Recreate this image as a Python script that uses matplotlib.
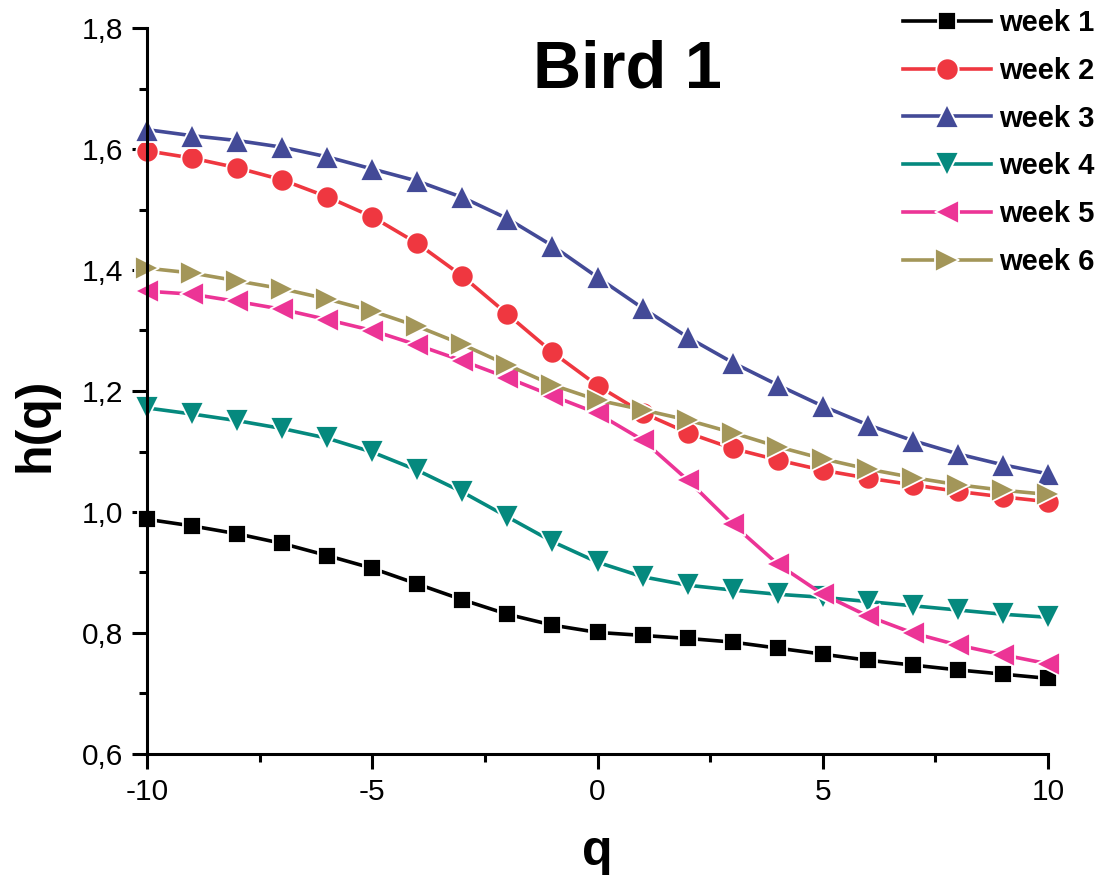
import matplotlib
matplotlib.use("Agg")
import matplotlib.pyplot as plt
from matplotlib.ticker import MultipleLocator

plt.rcParams['font.family'] = ['Liberation Sans', 'DejaVu Sans']
plt.rcParams['axes.unicode_minus'] = False

q = [-10, -9, -8, -7, -6, -5, -4, -3, -2, -1, 0, 1, 2, 3, 4, 5, 6, 7, 8, 9, 10]

week1 = [0.988, 0.977, 0.964, 0.948, 0.928, 0.907, 0.881, 0.855, 0.831, 0.813, 0.801,
         0.796, 0.791, 0.785, 0.775, 0.765, 0.755, 0.747, 0.739, 0.732, 0.725]
week2 = [1.597, 1.585, 1.569, 1.549, 1.521, 1.488, 1.444, 1.390, 1.327, 1.264, 1.209,
         1.164, 1.131, 1.105, 1.086, 1.069, 1.056, 1.045, 1.034, 1.025, 1.017]
week3 = [1.632, 1.622, 1.614, 1.603, 1.587, 1.567, 1.547, 1.520, 1.485, 1.440, 1.388,
         1.337, 1.289, 1.247, 1.210, 1.175, 1.144, 1.118, 1.096, 1.078, 1.063]
week4 = [1.172, 1.162, 1.151, 1.138, 1.122, 1.099, 1.069, 1.033, 0.992, 0.951, 0.917,
         0.893, 0.879, 0.871, 0.864, 0.859, 0.852, 0.845, 0.838, 0.831, 0.826]
week5 = [1.365, 1.360, 1.348, 1.335, 1.318, 1.300, 1.276, 1.250, 1.222, 1.192, 1.163,
         1.119, 1.053, 0.980, 0.914, 0.864, 0.828, 0.800, 0.780, 0.764, 0.749]
week6 = [1.403, 1.395, 1.382, 1.369, 1.352, 1.332, 1.307, 1.277, 1.243, 1.210, 1.185,
         1.169, 1.152, 1.131, 1.108, 1.088, 1.071, 1.057, 1.045, 1.036, 1.029]

labels = ["week 1", "week 2", "week 3", "week 4", "week 5", "week 6"]
series = [week1, week2, week3, week4, week5, week6]
colors = ["#000000", "#EF3740", "#434A97", "#05897E", "#EC3496", "#A39659"]
markers = ["s", "o", "^", "v", "<", ">"]
msizes = [13.5, 16, 17, 17, 17, 17]

fig = plt.figure(figsize=(10.97, 8.77), dpi=100)
ax = fig.add_axes([147 / 1097, 1 - 754 / 877, 901 / 1097, 726 / 877])

for ys, lab, c, m, ms in zip(series, labels, colors, markers, msizes):
    ax.plot(q, ys, color=c, marker=m, markersize=ms, linewidth=2.6,
            markerfacecolor=c, markeredgecolor="white", markeredgewidth=1.3,
            label=lab, clip_on=False)

ax.set_xlim(-10, 10)
ax.set_ylim(0.6, 1.8)
ax.xaxis.set_major_locator(MultipleLocator(5))
ax.xaxis.set_minor_locator(MultipleLocator(2.5))
ax.yaxis.set_minor_locator(MultipleLocator(0.1))
yt = [0.6, 0.8, 1.0, 1.2, 1.4, 1.6, 1.8]
ax.set_yticks(yt)
ax.set_yticklabels([("%.1f" % v).replace(".", ",") for v in yt])

for side in ["top", "right"]:
    ax.spines[side].set_visible(False)
for side in ["left", "bottom"]:
    ax.spines[side].set_linewidth(2.2)

ax.tick_params(which="major", direction="out", length=11, width=2.2, labelsize=21.5, pad=6)
ax.tick_params(which="minor", direction="out", length=6, width=2.2)

fig.text(36 / 1097, 1 - 425 / 877, "h(q)", rotation=90, ha="center", va="center",
         fontsize=36, fontweight="bold")
fig.text(597 / 1097, 1 - 852 / 877, "q", ha="center", va="center",
         fontsize=36, fontweight="bold")
fig.text(627 / 1097, 1 - 70 / 877, "Bird 1", ha="center", va="center",
         fontsize=48, fontweight="bold")

leg = ax.legend(loc="upper left", bbox_to_anchor=(903 / 1097, 1 - 9 / 877),
                bbox_transform=fig.transFigure, frameon=False, borderpad=0,
                borderaxespad=0, handlelength=3.0, handletextpad=0.3,
                labelspacing=0.68, prop={"weight": "bold", "size": 21})

fig.savefig("out.png", dpi=100)
